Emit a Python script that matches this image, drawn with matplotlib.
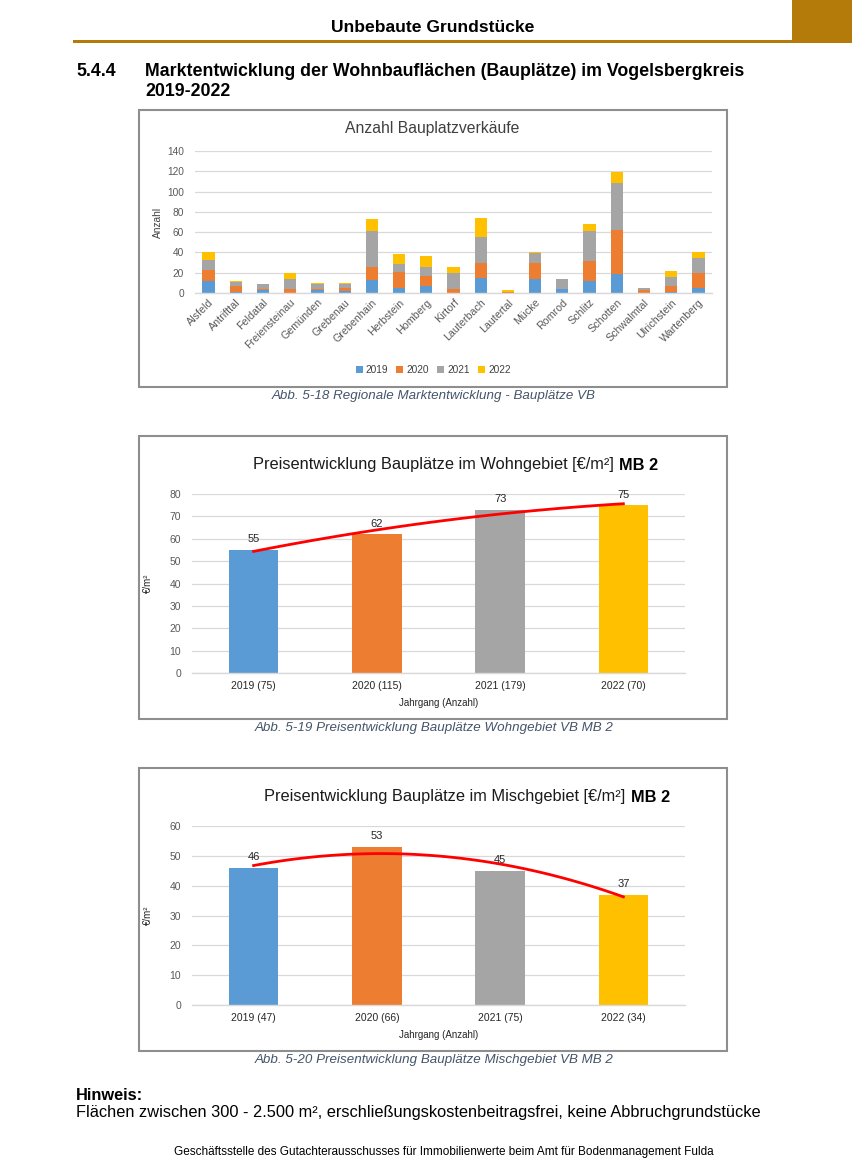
import numpy as np
import matplotlib
matplotlib.use("Agg")
import matplotlib.pyplot as plt
from matplotlib.patches import Rectangle

plt.rcParams['font.family'] = ['Liberation Sans', 'DejaVu Sans']

# ---------------- data ----------------
towns = ["Alsfeld", "Antrifttal", "Feldatal", "Freiensteinau", "Gemünden", "Grebenau",
         "Grebenhain", "Herbstein", "Homberg", "Kirtorf", "Lauterbach", "Lautertal",
         "Mücke", "Romrod", "Schlitz", "Schotten", "Schwalmtal", "Ulrichstein", "Wartenberg"]
years = ["2019", "2020", "2021", "2022"]
sales_2019 = [12, 1, 3, 0, 3, 2, 13, 5, 7, 0, 15, 0, 14, 4, 12, 19, 0, 1, 5]
sales_2020 = [11, 6, 1, 4, 1, 3, 13, 16, 10, 4, 15, 1, 16, 0, 20, 43, 3, 6, 15]
sales_2021 = [10, 4, 5, 10, 5, 4, 35, 8, 9, 16, 25, 0, 9, 10, 29, 46, 2, 9, 15]
sales_2022 = [7, 1, 0, 6, 1, 1, 12, 9, 10, 6, 19, 2, 1, 0, 7, 11, 0, 6, 5]

wohn_labels = ["2019 (75)", "2020 (115)", "2021 (179)", "2022 (70)"]
wohn_values = [55, 62, 73, 75]
misch_labels = ["2019 (47)", "2020 (66)", "2021 (75)", "2022 (34)"]
misch_values = [46, 53, 45, 37]

colors = ["#5B9BD5", "#ED7D31", "#A5A5A5", "#FFC000"]
GOLD = "#B47B0B"
GRID = "#D9D9D9"
TICK = "#595959"
CAP = "#44546A"

W, H = 853, 1168
fig = plt.figure(figsize=(W / 100, H / 100), dpi=100)


def fx(x):
    return x / W


def fy(y):
    return 1 - y / H


def ax_px(left, top, right, bottom):
    return fig.add_axes([fx(left), fy(bottom), (right - left) / W, (bottom - top) / H])


def box(left, top, right, bottom):
    fig.add_artist(Rectangle((fx(left), fy(bottom)), (right - left) / W, (bottom - top) / H,
                             transform=fig.transFigure, facecolor="white",
                             edgecolor="#8E8E8E", lw=1.5, zorder=0))


def style_axes(ax):
    for s in ["left", "right", "top"]:
        ax.spines[s].set_visible(False)
    ax.spines["bottom"].set_color(GRID)
    ax.spines["bottom"].set_linewidth(1.0)
    ax.tick_params(length=0, colors=TICK)
    ax.grid(axis="y", color=GRID, lw=0.9)
    ax.set_axisbelow(True)
    ax.set_facecolor("none")


# ---------------- page header ----------------
fig.add_artist(Rectangle((fx(792), fy(43)), (W - 792) / W, 43 / H, transform=fig.transFigure,
                         facecolor=GOLD, edgecolor="none"))
fig.add_artist(Rectangle((fx(73), fy(43)), (792 - 73) / W, 3 / H, transform=fig.transFigure,
                         facecolor=GOLD, edgecolor="none"))
fig.text(fx(433), fy(28), "Unbebaute Grundstücke", ha="center", va="center",
         fontsize=12.6, fontweight="bold")
fig.text(fx(76), fy(72), "5.4.4", ha="left", va="center", fontsize=12.8, fontweight="bold")
fig.text(fx(145), fy(72), "Marktentwicklung der Wohnbauflächen (Bauplätze) im Vogelsbergkreis",
         ha="left", va="center", fontsize=12.8, fontweight="bold")
fig.text(fx(145), fy(92), "2019-2022", ha="left", va="center", fontsize=12.8, fontweight="bold")

# ---------------- chart 1 ----------------
box(139, 110, 727, 387)
fig.text(fx(432), fy(128), "Anzahl Bauplatzverkäufe", ha="center", va="center",
         fontsize=11.3, color="#404040")
ax1 = ax_px(195, 151, 712, 293)
style_axes(ax1)
x = np.arange(len(towns))
bottom = np.zeros(len(towns))
for yr, vals, c in zip(years, [sales_2019, sales_2020, sales_2021, sales_2022], colors):
    ax1.bar(x, vals, width=0.45, bottom=bottom, color=c, label=yr)
    bottom += np.array(vals)
ax1.set_xlim(-0.5, len(towns) - 0.5)
ax1.set_ylim(0, 140)
ax1.set_yticks(range(0, 141, 20))
ax1.set_xticks(x)
ax1.set_xticklabels(towns, rotation=45, ha="right", rotation_mode="anchor", fontsize=7.7)
ax1.tick_params(axis="y", labelsize=7.3, pad=8)
ax1.tick_params(axis="x", pad=3)
ax1.set_ylabel("Anzahl", fontsize=7.3, color="#404040", labelpad=3)
fig.legend(*ax1.get_legend_handles_labels(), loc="center", bbox_to_anchor=(fx(433), fy(370)),
           ncol=4, frameon=False, fontsize=7.3, handlelength=0.7, handleheight=0.7,
           handletextpad=0.3, columnspacing=0.8, labelcolor="#404040")
fig.text(fx(434), fy(396), "Abb. 5-18 Regionale Marktentwicklung - Bauplätze VB", ha="center",
         va="center", fontsize=9.6, style="italic", color=CAP)


# ---------------- price charts ----------------
def price_chart(top, title, labels, values, ymax, ax_top, ax_bottom, title_x, caption):
    box(139, top, 727, top + 283)
    t1 = fig.text(fx(title_x), fy(top + 29), title, ha="left", va="center", fontsize=11.8,
                  color="#1A1A1A")
    fig.axes[0].annotate("MB 2", xy=(1, 0.5), xycoords=t1, xytext=(4, 0),
                         textcoords="offset points", ha="left", va="center", fontsize=11.8,
                         fontweight="bold", color="#000000", annotation_clip=False)
    ax = ax_px(192, ax_top, 685, ax_bottom)
    style_axes(ax)
    xi = np.arange(len(values))
    ax.bar(xi, values, width=0.4, color=colors)
    for xv, v in zip(xi, values):
        ax.annotate(str(v), xy=(xv, v), xytext=(0, 4), textcoords="offset points",
                    ha="center", va="bottom", fontsize=8, color="#262626")
    coef = np.polyfit(xi, values, 2)
    xs = np.linspace(0, len(values) - 1, 100)
    ax.plot(xs, np.polyval(coef, xs), color="#FF0000", lw=2)
    ax.set_xlim(-0.5, len(values) - 0.5)
    ax.set_ylim(0, ymax)
    ax.set_yticks(range(0, ymax + 1, 10))
    ax.set_xticks(xi)
    ax.set_xticklabels(labels, fontsize=7.5, color="#262626")
    ax.tick_params(axis="y", labelsize=7.5, pad=8)
    ax.tick_params(axis="x", pad=6)
    ax.set_xlabel("Jahrgang (Anzahl)", fontsize=7, color="#262626", labelpad=5)
    ax.set_ylabel("€/m²", fontsize=7, color="#262626", labelpad=12)
    fig.text(fx(434), fy(top + 292), caption, ha="center", va="center", fontsize=9.6,
             style="italic", color=CAP)


price_chart(436, "Preisentwicklung Bauplätze im Wohngebiet [€/m²]", wohn_labels, wohn_values,
            80, 494, 673, 253, "Abb. 5-19 Preisentwicklung Bauplätze Wohngebiet VB MB 2")
price_chart(768, "Preisentwicklung Bauplätze im Mischgebiet [€/m²]", misch_labels, misch_values,
            60, 826, 1005, 264, "Abb. 5-20 Preisentwicklung Bauplätze Mischgebiet VB MB 2")

# ---------------- notes / footer ----------------
fig.text(fx(76), fy(1095), "Hinweis:", ha="left", va="center", fontsize=11.8, fontweight="bold")
fig.text(fx(76), fy(1112),
         "Flächen zwischen 300 - 2.500 m², erschließungskostenbeitragsfrei, keine Abbruchgrundstücke",
         ha="left", va="center", fontsize=11.8)
fig.text(fx(444), fy(1152),
         "Geschäftsstelle des Gutachterausschusses für Immobilienwerte beim Amt für Bodenmanagement Fulda",
         ha="center", va="center", fontsize=8.45)

fig.savefig("out.png", dpi=100)
